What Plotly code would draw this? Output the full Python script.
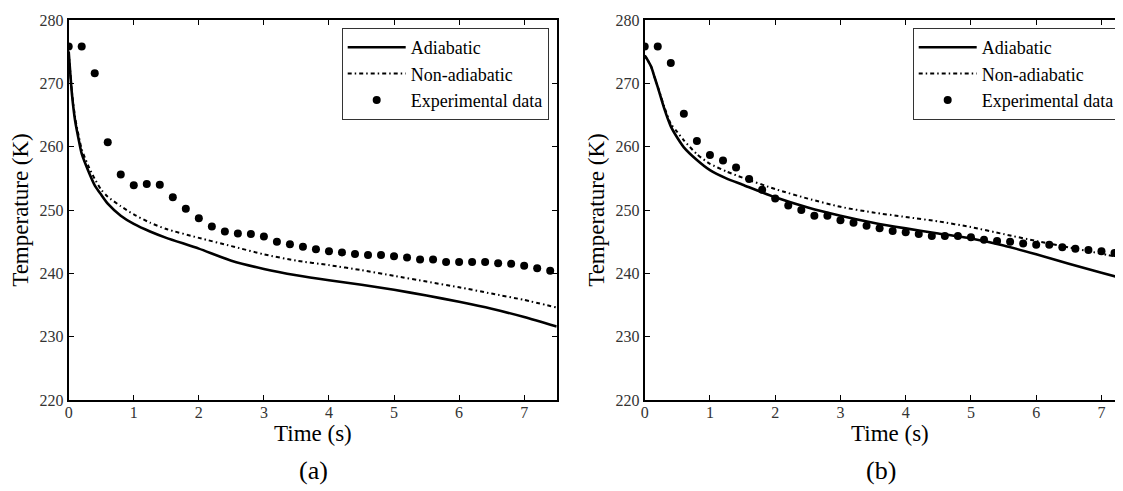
import plotly.graph_objects as go

# ---------------- data ----------------
t_model = [0, 0.05, 0.1, 0.15, 0.2, 0.3, 0.4, 0.5, 0.6, 0.8, 1.0, 1.25, 1.5, 2.0,
           2.5, 3.0, 3.5, 4.0, 4.5, 5.0, 5.5, 6.0, 6.5, 7.0, 7.5]

adiabatic_a = [275.0, 268.3, 264.0, 261.3, 258.9, 256.2, 253.9, 252.4, 251.0, 249.1,
               247.8, 246.6, 245.6, 243.9, 242.0, 240.7, 239.7, 238.9, 238.2, 237.4,
               236.5, 235.5, 234.4, 233.1, 231.6]
nonadiabatic_a = [275.0, 268.6, 264.5, 261.9, 259.6, 257.0, 254.9, 253.2, 252.1, 250.6,
                  249.3, 248.0, 247.0, 245.6, 244.3, 243.0, 242.0, 241.3, 240.5, 239.6,
                  238.7, 237.8, 236.8, 235.8, 234.6]

adiabatic_b = [274.4, 273.6, 272.6, 271.0, 269.4, 266.0, 263.2, 261.4, 259.9, 257.9,
               256.3, 255.0, 254.0, 252.0, 250.4, 249.1, 248.0, 247.1, 246.3, 245.5,
               244.4, 243.0, 241.5, 240.1, 238.7]
nonadiabatic_b = [274.4, 273.6, 272.6, 271.0, 269.5, 266.3, 263.6, 262.3, 261.0, 258.8,
                  257.3, 256.1, 255.1, 253.3, 251.8, 250.5, 249.6, 248.9, 248.2, 247.3,
                  246.2, 245.1, 244.1, 243.1, 242.0]

t_exp_a = [0.0, 0.2, 0.4, 0.6, 0.8, 1.0, 1.2, 1.4, 1.6, 1.8, 2.0, 2.2, 2.4, 2.6, 2.8,
           3.0, 3.2, 3.4, 3.6, 3.8, 4.0, 4.2, 4.4, 4.6, 4.8, 5.0, 5.2, 5.4, 5.6, 5.8,
           6.0, 6.2, 6.4, 6.6, 6.8, 7.0, 7.2, 7.4]
exp_a = [275.8, 275.8, 271.6, 260.7, 255.6, 253.9, 254.1, 254.0, 252.0, 250.2, 248.7,
         247.4, 246.6, 246.3, 246.2, 245.8, 245.0, 244.6, 244.2, 243.8, 243.5, 243.3,
         243.05, 242.9, 242.9, 242.7, 242.5, 242.2, 242.2, 241.8, 241.8, 241.8, 241.8,
         241.6, 241.5, 241.2, 240.8, 240.4]

t_exp_b = [0.0, 0.2, 0.4, 0.6, 0.8, 1.0, 1.2, 1.4, 1.6, 1.8, 2.0, 2.2, 2.4, 2.6, 2.8,
           3.0, 3.2, 3.4, 3.6, 3.8, 4.0, 4.2, 4.4, 4.6, 4.8, 5.0, 5.2, 5.4, 5.6, 5.8,
           6.0, 6.2, 6.4, 6.6, 6.8, 7.0, 7.2]
exp_b = [275.8, 275.8, 273.2, 265.2, 260.9, 258.7, 257.8, 256.7, 254.9, 253.2, 251.8,
         250.7, 250.0, 249.1, 249.1, 248.4, 248.0, 247.5, 247.1, 246.7, 246.5, 246.2,
         245.9, 245.9, 245.9, 245.7, 245.3, 245.1, 245.0, 244.7, 244.5, 244.5, 244.1,
         243.9, 243.7, 243.5, 243.2]

x_ticks = [0, 1, 2, 3, 4, 5, 6, 7]
y_ticks = [220, 230, 240, 250, 260, 270, 280]
names = ["Adiabatic", "Non-adiabatic", "Experimental data"]
panel_labels = ["(a)", "(b)"]
x_title = "Time (s)"
y_title = "Temperature (K)"

# ---------------- figure ----------------
FONT = '"Liberation Serif", "Times New Roman", Times, serif'
OFF = 8                      # page body margin of the html page
W, H = 1123 - OFF, 491 - OFF

def px(x):                   # page pixel -> paper x
    return (x - OFF) / W

def py(y):                   # page pixel -> paper y
    return 1 - (y - OFF) / H

fig = go.Figure()

def add_panel(xa, ya, leg, ad, nad, tx, ex):
    fig.add_trace(go.Scatter(x=t_model, y=ad, mode="lines", name=names[0],
                             line=dict(color="black", width=2.6, shape="spline", smoothing=0.6),
                             xaxis=xa, yaxis=ya, legend=leg))
    fig.add_trace(go.Scatter(x=t_model, y=nad, mode="lines", name=names[1],
                             line=dict(color="black", width=2, dash="4px,3px,1.5px,3px",
                                       shape="spline", smoothing=0.6),
                             xaxis=xa, yaxis=ya, legend=leg))
    fig.add_trace(go.Scatter(x=tx, y=ex, mode="markers", name=names[2],
                             marker=dict(color="black", size=8),
                             xaxis=xa, yaxis=ya, legend=leg))

add_panel("x", "y", "legend", adiabatic_a, nonadiabatic_a, t_exp_a, exp_a)
add_panel("x2", "y2", "legend2", adiabatic_b, nonadiabatic_b, t_exp_b, exp_b)

ydom = [py(400), py(20)]
axis_common = dict(showline=True, linecolor="black", linewidth=2, ticks="inside",
                   ticklen=5, tickwidth=1, tickcolor="black", showgrid=False,
                   zeroline=False, automargin=False,
                   tickfont=dict(family=FONT, size=16, color="#333"))
x_extra = dict(ticklabelstandoff=-3)

title_font = dict(family=FONT, size=23, color="black")
legend_common = dict(y=py(28), yanchor="top", bgcolor="white", bordercolor="#333",
                     borderwidth=1, font=dict(family=FONT, size=18, color="black"),
                     tracegroupgap=0, itemwidth=58)

def note(text, x, y, size):
    return dict(text=text, xref="paper", yref="paper", x=px(x), y=py(y),
                xanchor="center", yanchor="middle", showarrow=False,
                font=dict(family=FONT, size=size, color="black"))

fig.update_layout(
    width=W, height=H, margin=dict(l=0, r=0, t=0, b=0, autoexpand=False),
    paper_bgcolor="white", plot_bgcolor="white",
    xaxis=dict(domain=[px(68.7), px(556.7)], range=[0, 7.5], tickvals=x_ticks,
               mirror="ticks", anchor="y", **axis_common, **x_extra),
    yaxis=dict(domain=ydom, range=[220, 280], tickvals=y_ticks, mirror="ticks", anchor="x",
               title=dict(text=y_title, font=title_font, standoff=4), **axis_common),
    xaxis2=dict(domain=[px(644.7), 1.0], range=[0, 7.33], tickvals=x_ticks,
                mirror="ticks", anchor="y2", **axis_common, **x_extra),
    yaxis2=dict(domain=ydom, range=[220, 280], tickvals=y_ticks, mirror=False, anchor="x2",
                title=dict(text=y_title, font=title_font, standoff=4), **axis_common),
    legend=dict(x=px(548.7), xanchor="right", **legend_common),
    legend2=dict(x=px(912.7), xanchor="left", **legend_common),
    annotations=[
        note(x_title, 312.7, 433, 23),
        note(x_title, 889.6, 433, 23),
        note(panel_labels[0], 313, 470, 26),
        note(panel_labels[1], 881, 470, 26),
    ],
)

fig.write_html("out.html")
